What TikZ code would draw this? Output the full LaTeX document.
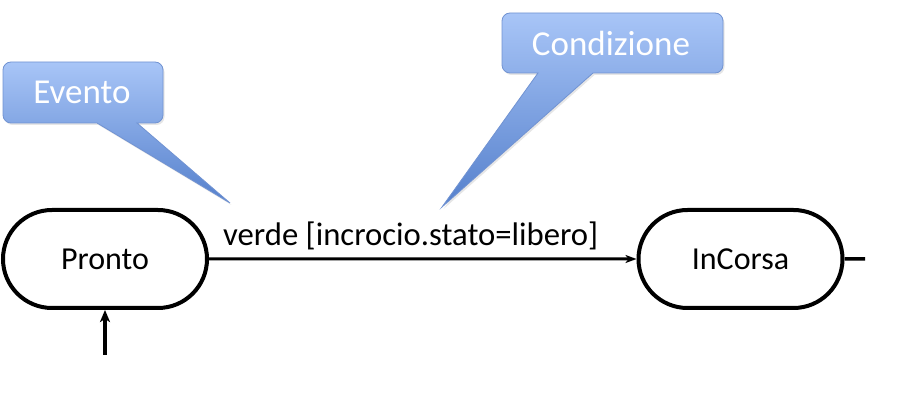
\documentclass[tikz,border=0pt]{standalone}
\usepackage{fontspec}
\setmainfont{Carlito}
\usetikzlibrary{arrows.meta,shapes.misc,shadows}
\definecolor{calltop}{HTML}{A8C5F7}
\definecolor{callbot}{HTML}{5580CC}
\definecolor{callborder}{HTML}{7193D2}
\tikzset{
  statebox/.style={rounded rectangle, draw=black, line width=4pt, minimum width=204pt, minimum height=98pt, inner sep=0pt, font=\fontsize{32}{36}\selectfont},
  callout/.style={top color=calltop, bottom color=callbot, draw=callborder, line width=0.8pt,
     drop shadow={opacity=0.2, shadow xshift=1.5pt, shadow yshift=-2pt}},
  calltext/.style={text=white, font=\fontsize{35}{40}\selectfont, inner sep=0pt},
  trans/.style={line width=3pt, -{Stealth[length=11pt,width=8pt,inset=3pt]}},
  inittrans/.style={line width=4pt, -{Stealth[length=12pt,width=10pt,inset=3pt]}},
}
\begin{document}
\begin{tikzpicture}[x=1pt,y=1pt]
\useasboundingbox (0,0) rectangle (898,410);
% callouts
\path[callout] (11,348) -- (155,348) arc[start angle=90,end angle=0,radius=8] -- (163,295) arc[start angle=0,end angle=-90,radius=8] -- (137,287) -- (230,207) -- (97,287) -- (11,287) arc[start angle=270,end angle=180,radius=8] -- (3,340) arc[start angle=180,end angle=90,radius=8] -- cycle;
\node[calltext] (ev) at (82,318) {Evento};
\path[callout] (510,397) -- (715,397) arc[start angle=90,end angle=0,radius=8] -- (723,345) arc[start angle=0,end angle=-90,radius=8] -- (593,337) -- (442,203) -- (538,337) -- (510,337) arc[start angle=270,end angle=180,radius=8] -- (502,389) arc[start angle=180,end angle=90,radius=8] -- cycle;
\node[calltext] (cond) at (611,367) {Condizione};
% states
\node[statebox] (pronto) at (105,151) {Pronto};
\node[statebox] (incorsa) at (740.5,151) {InCorsa};
\coordinate (init) at (105,55);
\coordinate (stub) at (865,151);
\draw[trans] (pronto) -- node[above=8pt, xshift=-12pt, font=\fontsize{32.7}{36}\selectfont, inner sep=0pt] (lab) {verde [incrocio.stato=libero]} (incorsa);
\draw[inittrans] (init) -- (pronto);
\draw[line width=3.5pt] (incorsa) -- (stub);
\end{tikzpicture}
\end{document}
